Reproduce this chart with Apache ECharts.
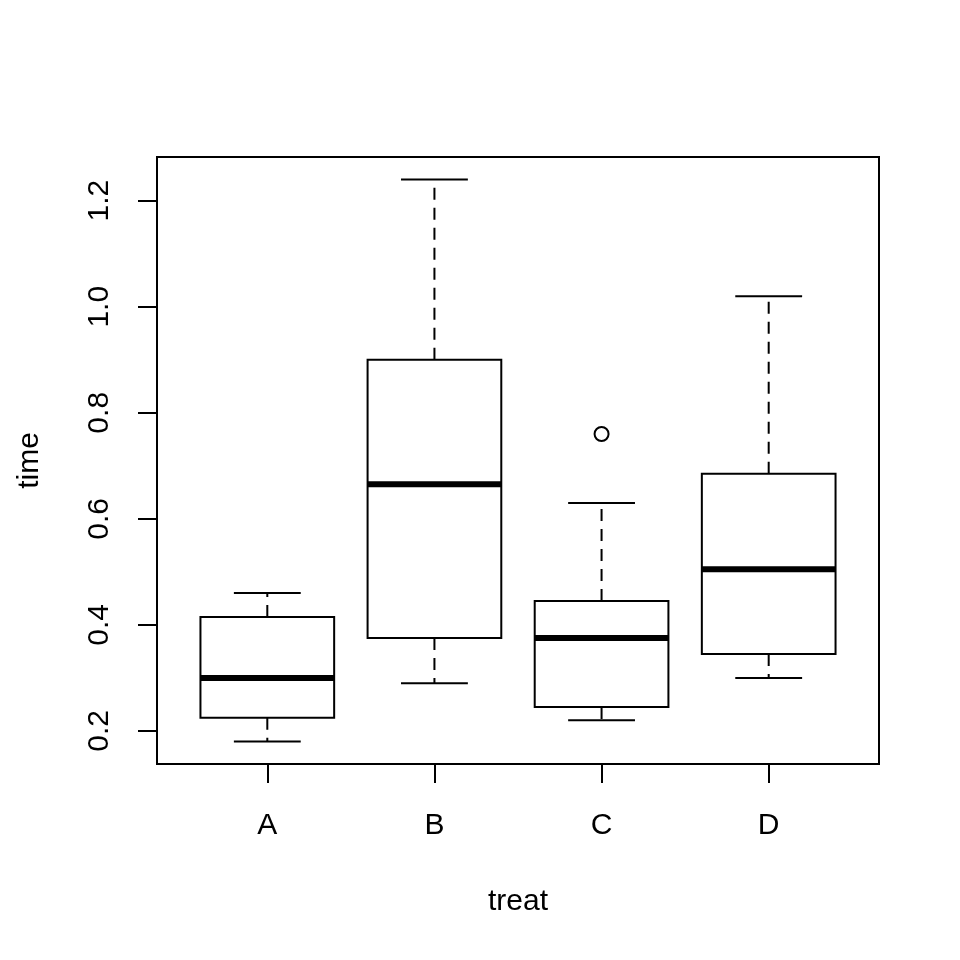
<!DOCTYPE html>
<html>
<head>
<meta charset="utf-8">
<script src="https://cdn.jsdelivr.net/npm/echarts@6/dist/echarts.min.js"></script>
<style>html,body{margin:0;padding:0;background:#fff}#c{width:960px;height:960px}</style>
</head>
<body>
<div id="c"></div>
<script>
const categories = ['A', 'B', 'C', 'D'];
const lowWhisker = [0.18, 0.29, 0.22, 0.30];
const q1 = [0.225, 0.375, 0.245, 0.345];
const median = [0.30, 0.665, 0.375, 0.505];
const q3 = [0.415, 0.90, 0.445, 0.685];
const highWhisker = [0.46, 1.24, 0.63, 1.02];
const outlierCategory = ['C'];
const outlierValue = [0.76];
const yTicks = [0.2, 0.4, 0.6, 0.8, 1.0, 1.2];
const xTicks = [1, 2, 3, 4];

const allVals = lowWhisker.concat(highWhisker, outlierValue);
const dMin = Math.min.apply(null, allVals), dMax = Math.max.apply(null, allVals);
const yPad = (dMax - dMin) * 0.04;
const xPad = categories.length * 0.04;

const boxData = categories.map((c, i) => [i + 1, lowWhisker[i], q1[i], median[i], q3[i], highWhisker[i]]);
const outData = outlierCategory.map((c, i) => [categories.indexOf(c) + 1, outlierValue[i]]);

const FONT = 'Liberation Sans, Arial, Helvetica, sans-serif';
const LW = 2;

function renderItem(params, api) {
  const x = api.value(0);
  const lo = api.coord([x, api.value(1)]);
  const b1 = api.coord([x, api.value(2)]);
  const md = api.coord([x, api.value(3)]);
  const b3 = api.coord([x, api.value(4)]);
  const hi = api.coord([x, api.value(5)]);
  const bw = api.size([0.8, 0])[0];
  const sw = api.size([0.4, 0])[0];
  const cx = lo[0];
  const solid = { stroke: '#000', lineWidth: LW, fill: 'none' };
  const dashed = { stroke: '#000', lineWidth: LW, lineDash: [12, 8] };
  return {
    type: 'group',
    children: [
      { type: 'line', shape: { x1: cx, y1: b3[1], x2: cx, y2: hi[1] }, style: dashed },
      { type: 'line', shape: { x1: cx, y1: b1[1], x2: cx, y2: lo[1] }, style: dashed },
      { type: 'line', shape: { x1: cx - sw / 2, y1: hi[1], x2: cx + sw / 2, y2: hi[1] }, style: solid },
      { type: 'line', shape: { x1: cx - sw / 2, y1: lo[1], x2: cx + sw / 2, y2: lo[1] }, style: solid },
      { type: 'rect', shape: { x: cx - bw / 2, y: b3[1], width: bw, height: b1[1] - b3[1] }, style: { stroke: '#000', lineWidth: LW, fill: '#fff' } },
      { type: 'line', shape: { x1: cx - bw / 2, y1: md[1], x2: cx + bw / 2, y2: md[1] }, style: { stroke: '#000', lineWidth: 6 } }
    ]
  };
}

const chart = echarts.init(document.getElementById('c'), null, { renderer: 'canvas' });
chart.setOption({
  backgroundColor: '#fff',
  animation: false,
  grid: { left: 157, right: 81, top: 157, bottom: 196, show: true, borderColor: '#000', borderWidth: LW, backgroundColor: 'transparent' },
  xAxis: {
    type: 'value',
    min: 0.5 - xPad,
    max: categories.length + 0.5 + xPad,
    name: 'treat',
    nameLocation: 'middle',
    nameGap: 123,
    nameTextStyle: { fontSize: 30, color: '#000', fontFamily: FONT },
    axisLine: { show: false },
    splitLine: { show: false },
    axisTick: { show: true, inside: false, length: 19, customValues: xTicks, lineStyle: { color: '#000', width: LW } },
    axisLabel: { show: true, customValues: xTicks, margin: 47, fontSize: 30, color: '#000', fontFamily: FONT,
      formatter: v => categories[Math.round(v) - 1] }
  },
  yAxis: {
    type: 'value',
    min: dMin - yPad,
    max: dMax + yPad,
    name: 'time',
    nameLocation: 'middle',
    nameRotate: 90,
    nameGap: 112,
    nameTextStyle: { fontSize: 30, color: '#000', fontFamily: FONT },
    axisLine: { show: false },
    splitLine: { show: false },
    axisTick: { show: true, inside: false, length: 19, customValues: yTicks, lineStyle: { color: '#000', width: LW } },
    axisLabel: { show: true, customValues: yTicks, rotate: 90, margin: 42, fontSize: 30, color: '#000', fontFamily: FONT,
      formatter: v => Number(v).toFixed(1) }
  },
  series: [
    {
      type: 'custom',
      renderItem: renderItem,
      data: boxData,
      encode: { x: 0, y: [1, 2, 3, 4, 5] },
      clip: false
    },
    {
      type: 'scatter',
      data: outData,
      symbol: 'circle',
      symbolSize: 14,
      itemStyle: { color: '#fff', borderColor: '#000', borderWidth: LW, opacity: 1 }
    }
  ]
});
</script>
</body>
</html>
